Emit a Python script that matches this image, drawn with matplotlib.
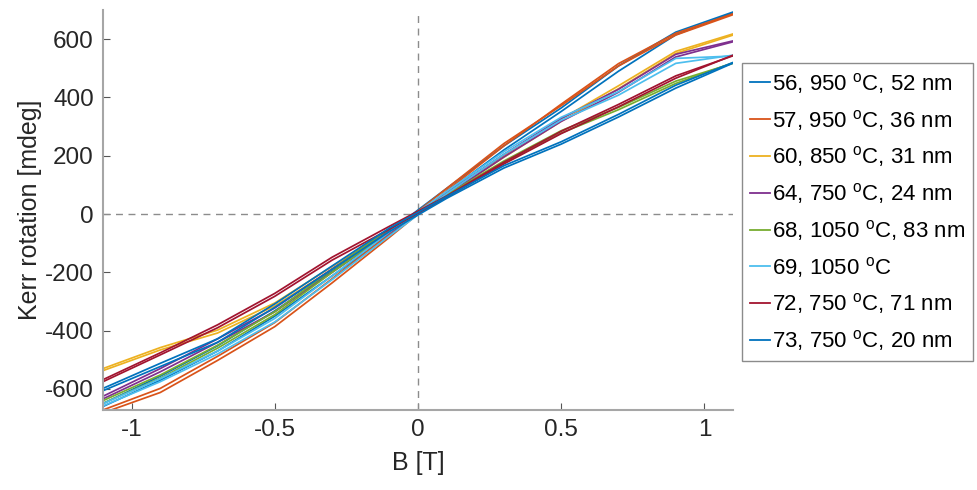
import matplotlib
matplotlib.use("Agg")
import matplotlib.pyplot as plt

plt.rcParams["font.family"] = ["Liberation Sans", "DejaVu Sans"]
plt.rcParams["mathtext.fontset"] = "custom"
plt.rcParams["mathtext.rm"] = "Liberation Sans"

# campo magnetico [T]
campo = [-1.1, -0.9, -0.7, -0.5, -0.3, -0.1, 0.1, 0.3, 0.5, 0.7, 0.9, 1.1]

# rotacion Kerr [mdeg], dos ramas por muestra (subida / bajada)
m56_a = [-660, -570, -470, -350, -212, -72, 75, 220, 352, 490, 615, 690]
m56_b = [-650, -556, -452, -332, -196, -60, 88, 234, 364, 508, 624, 693]
m57_a = [-682, -612, -502, -386, -236, -80, 80, 234, 377, 516, 620, 687]
m57_b = [-672, -598, -488, -372, -222, -68, 88, 242, 372, 508, 614, 684]
m60_a = [-537, -466, -408, -315, -190, -64, 64, 195, 318, 430, 551, 614]
m60_b = [-530, -458, -398, -305, -180, -55, 72, 202, 326, 440, 558, 618]
m64_a = [-634, -541, -440, -335, -200, -65, 65, 196, 318, 418, 539, 591]
m64_b = [-625, -530, -428, -322, -188, -55, 72, 205, 328, 428, 548, 594]
m68_a = [-649, -563, -460, -345, -200, -60, 60, 176, 278, 358, 448, 519]
m68_b = [-640, -552, -450, -335, -190, -50, 66, 182, 286, 366, 456, 517]
m69_a = [-658, -575, -480, -370, -225, -75, 70, 205, 322, 408, 517, 545]
m69_b = [-650, -565, -470, -358, -212, -62, 78, 214, 332, 420, 534, 542]
m72_a = [-575, -483, -390, -282, -158, -52, 57, 172, 276, 368, 466, 545]
m72_b = [-568, -476, -380, -272, -148, -42, 62, 178, 284, 376, 474, 543]
m73_a = [-606, -523, -440, -320, -190, -60, 54, 158, 240, 333, 432, 518]
m73_b = [-598, -512, -428, -308, -178, -48, 60, 166, 248, 342, 442, 520]

etiquetas = [
    r"56, 950 $^{\mathrm{o}}$C, 52 nm",
    r"57, 950 $^{\mathrm{o}}$C, 36 nm",
    r"60, 850 $^{\mathrm{o}}$C, 31 nm",
    r"64, 750 $^{\mathrm{o}}$C, 24 nm",
    r"68, 1050 $^{\mathrm{o}}$C, 83 nm",
    r"69, 1050 $^{\mathrm{o}}$C",
    r"72, 750 $^{\mathrm{o}}$C, 71 nm",
    r"73, 750 $^{\mathrm{o}}$C, 20 nm",
]
colores = ["#0072BD", "#D95319", "#EDB120", "#7E2F8E",
           "#77AC30", "#4DBEEE", "#A2142F", "#0072BD"]
ramas = [(m56_a, m56_b), (m57_a, m57_b), (m60_a, m60_b), (m64_a, m64_b),
         (m68_a, m68_b), (m69_a, m69_b), (m72_a, m72_b), (m73_a, m73_b)]

fig = plt.figure(figsize=(9.77, 4.90), dpi=100)
ax = fig.add_axes([0.1054, 0.1633, 0.6449, 0.8163])

gris = "#8c8c8c"
ax.axvline(0, color=gris, ls=(0, (5, 4)), lw=1.0)
ax.axhline(0, color=gris, ls=(0, (5, 4)), lw=1.0)

for (rama_a, rama_b), color, etiqueta in zip(ramas, colores, etiquetas):
    ax.plot(campo, rama_a, color=color, lw=1.25, label=etiqueta)
    ax.plot(campo, rama_b, color=color, lw=1.25)

ax.set_xlim(-1.1, 1.1)
ax.set_ylim(-672, 700)
ax.set_xticks([-1, -0.5, 0, 0.5, 1])
ax.set_xticklabels(["-1", "-0.5", "0", "0.5", "1"])
ax.set_yticks([-600, -400, -200, 0, 200, 400, 600])
ax.set_yticklabels(["-600", "-400", "-200", "0", "200", "400", "600"])
ax.tick_params(direction="in", length=5, width=0.8, color="#555555",
               labelcolor="#262626", labelsize=17.5, pad=6.5)
ax.spines["top"].set_visible(False)
ax.spines["right"].set_visible(False)
for lado in ["left", "bottom"]:
    ax.spines[lado].set_color("#a6a6a6")
    ax.spines[lado].set_linewidth(1.5)

ax.set_xlabel("B [T]", fontsize=18, color="#262626", labelpad=7)
ax.set_ylabel("Kerr rotation [mdeg]", fontsize=18, color="#262626", labelpad=2)

leg = ax.legend(loc="upper left", bbox_to_anchor=(0.7595, 0.8714),
                bbox_transform=fig.transFigure, fontsize=16, frameon=True,
                fancybox=False, edgecolor="#6e6e6e", borderaxespad=0,
                handlelength=0.9, handletextpad=0.1, labelspacing=0.53,
                borderpad=0.35)
leg.get_frame().set_linewidth(1.0)
for linea in leg.get_lines():
    linea.set_linewidth(1.3)

plt.savefig("out.png", dpi=100)
